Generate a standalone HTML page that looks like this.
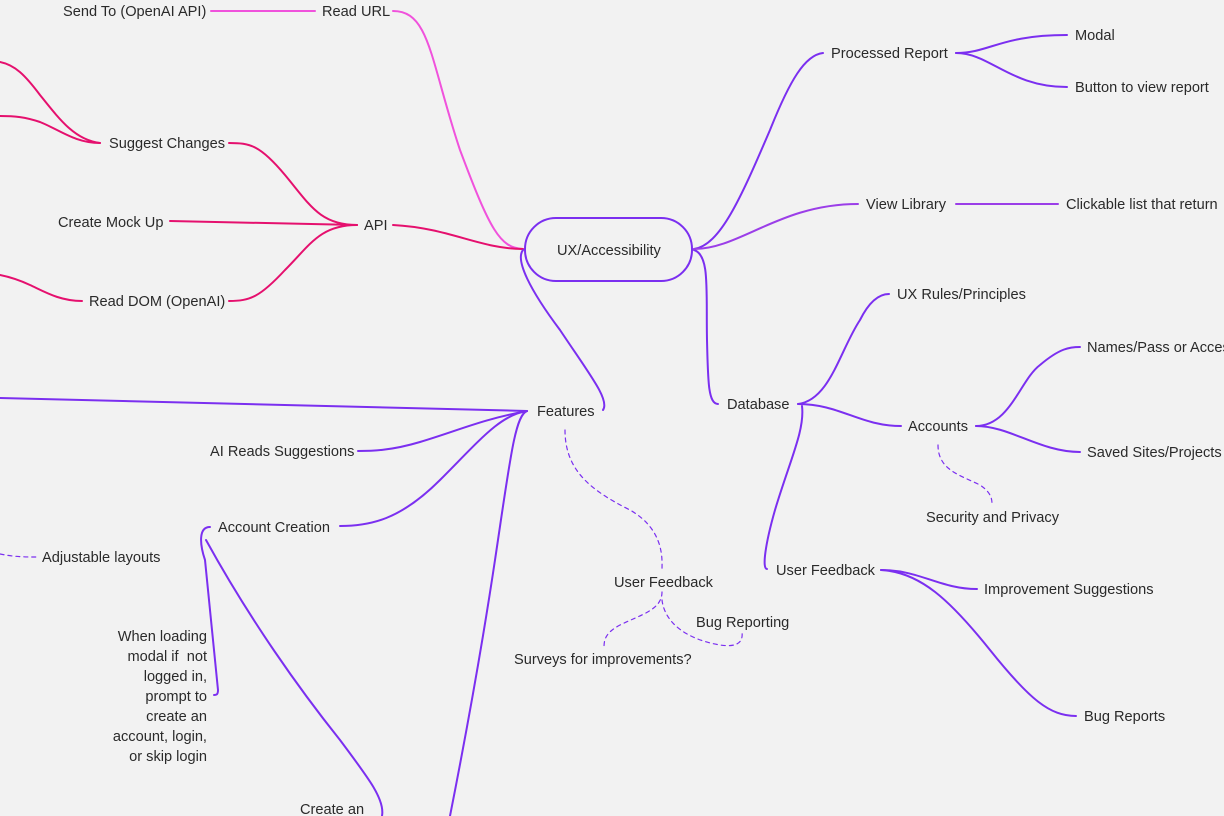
<!DOCTYPE html>
<html><head><meta charset="utf-8"><style>
html,body{margin:0;padding:0;background:#f2f2f2;width:1224px;height:816px;overflow:hidden}
svg text{font-family:"Liberation Sans",sans-serif;font-size:14.6px;fill:#2a2a2a}
</style></head><body>
<svg width="1224" height="816" viewBox="0 0 1224 816" xmlns="http://www.w3.org/2000/svg">
<g fill="none" stroke-width="2" stroke-linecap="round">
<g stroke="#f052dc">
<path d="M211 11 L315 11"/>
<path d="M393 11 C430 11 430 60 460 150 C490 230 500 248 523 249"/>
</g>
<g stroke="#e5106e">
<path d="M393 225 C450 228 480 249 523 249"/>
<path d="M357 225 C320 225 310 205 285 175 C260 145 250 143 229 143"/>
<path d="M357 225 L170 221"/>
<path d="M357 225 C320 225 310 245 285 270 C260 297 250 301 229 301"/>
<path d="M100 143 C75 140 60 120 40 95 C25 75 15 65 0 62"/>
<path d="M100 143 C75 143 60 130 40 122 C25 117 15 116 0 116"/>
<path d="M82 301 C60 301 45 292 30 285 C15 278 5 276 0 275"/>
</g>
<g stroke="#7b2ff0">
<rect x="525" y="218" width="167" height="63" rx="31"/>
<path d="M523 250 C515 260 530 290 560 330 C590 375 610 400 603 410"/>
<path d="M527 411 L0 398"/>
<path d="M527 411 C480 420 460 430 420 442 C390 451 370 451 358 451"/>
<path d="M527 411 C500 415 480 440 440 480 C400 520 370 526 340 526"/>
<path d="M527 411 C515 415 510 460 495 560 C480 660 465 740 450 816"/>
<path d="M210 527 C198 527 200 545 205 560 L218 690 C218 695 216 695 214 695"/>
<path d="M206 540 C250 620 300 690 340 740 C370 780 385 800 382 816"/>
<path d="M694 249 C720 245 740 200 770 130 C790 80 805 55 823 53"/>
<path d="M956 53 C990 53 1000 35 1067 35"/>
<path d="M956 53 C990 53 1010 87 1067 87"/>
<path d="M694 250 C710 255 706 290 707 340 C708 380 708 404 718 404"/>
<path d="M798 404 C830 400 840 350 860 320 C870 300 880 294 889 294"/>
<path d="M798 404 C840 404 860 426 901 426"/>
<path d="M802 406 C805 430 790 460 775 510 C765 545 762 569 767 569"/>
<path d="M976 426 C1010 426 1020 380 1040 365 C1060 348 1070 347 1080 347"/>
<path d="M976 426 C1010 426 1040 452 1080 452"/>
<path d="M881 570 C920 570 940 589 977 589"/>
<path d="M881 570 C920 572 950 600 990 650 C1030 700 1050 716 1076 716"/>
</g>
<g stroke="#9b3ee8">
<path d="M694 249 C740 249 780 204 858 204"/>
<path d="M956 204 L1058 204"/>
</g>
<g stroke="#7b2ff0" stroke-width="1.2" stroke-dasharray="4 4">
<path d="M565 430 C565 470 590 490 630 510 C665 530 662 560 662 570"/>
<path d="M662 592 C662 610 640 615 620 625 C605 633 604 640 604 648"/>
<path d="M662 600 C665 625 690 640 720 645 C740 648 743 640 742 632"/>
<path d="M938 445 C938 470 960 475 980 485 C992 493 992 500 992 505"/>
<path d="M0 554 C15 557 25 557 38 557"/>
</g>
</g>
<text x="63" y="16">Send To (OpenAI API)</text>
<text x="322" y="16">Read URL</text>
<text x="109" y="148">Suggest Changes</text>
<text x="58" y="227">Create Mock Up</text>
<text x="364" y="230">API</text>
<text x="89" y="306">Read DOM (OpenAI)</text>
<text x="557" y="255">UX/Accessibility</text>
<text x="537" y="416">Features</text>
<text x="210" y="456">AI Reads Suggestions</text>
<text x="218" y="532">Account Creation</text>
<text x="42" y="562">Adjustable layouts</text>
<g text-anchor="end">
<text x="207" y="641">When loading</text>
<text x="207" y="661">modal if&#160;&#160;not</text>
<text x="207" y="681">logged in,</text>
<text x="207" y="701">prompt to</text>
<text x="207" y="721">create an</text>
<text x="207" y="741">account, login,</text>
<text x="207" y="761">or skip login</text>
</g>
<text x="300" y="814">Create an</text>
<text x="614" y="587">User Feedback</text>
<text x="696" y="627">Bug Reporting</text>
<text x="514" y="664">Surveys for improvements?</text>
<text x="831" y="58">Processed Report</text>
<text x="1075" y="40">Modal</text>
<text x="1075" y="92">Button to view report</text>
<text x="866" y="209">View Library</text>
<text x="1066" y="209">Clickable list that return</text>
<text x="897" y="299">UX Rules/Principles</text>
<text x="727" y="409">Database</text>
<text x="908" y="431">Accounts</text>
<text x="1087" y="352">Names/Pass or Access</text>
<text x="1087" y="457">Saved Sites/Projects</text>
<text x="926" y="522">Security and Privacy</text>
<text x="776" y="575">User Feedback</text>
<text x="984" y="594">Improvement Suggestions</text>
<text x="1084" y="721">Bug Reports</text>
</svg>
</body></html>
